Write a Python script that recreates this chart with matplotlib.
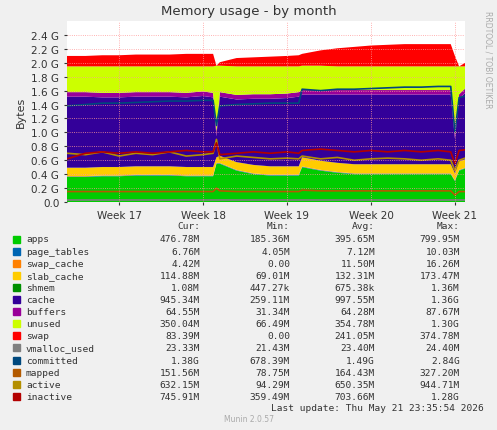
import matplotlib
matplotlib.use("Agg")
import matplotlib.pyplot as plt
import numpy as np

weeks = [16.38,16.6,16.8,17.0,17.2,17.4,17.6,17.8,18.0,18.12,18.16,18.2,18.4,18.6,18.8,19.0,19.14,19.18,19.4,19.6,19.8,20.0,20.2,20.4,20.6,20.8,20.95,21.0,21.05,21.12]
apps = [0.36,0.36,0.37,0.37,0.38,0.38,0.38,0.37,0.37,0.37,0.55,0.55,0.45,0.40,0.38,0.38,0.38,0.50,0.45,0.42,0.40,0.40,0.40,0.40,0.40,0.40,0.40,0.30,0.45,0.48]
page_tables = [0.007]*30
swap_cache = [0.005]*30
slab_cache = [0.12,0.12,0.12,0.12,0.12,0.12,0.12,0.12,0.12,0.12,0.08,0.10,0.11,0.12,0.12,0.12,0.12,0.13,0.13,0.13,0.13,0.13,0.13,0.13,0.13,0.13,0.13,0.10,0.12,0.12]
shmem = [0.001]*30
cache = [1.02,1.02,1.0,1.0,1.0,1.0,1.0,1.0,1.02,1.0,0.30,0.85,0.90,0.95,0.97,0.98,1.0,0.90,0.95,0.98,1.0,1.0,1.0,1.0,1.0,1.0,1.0,0.50,0.90,0.95]
buffers = [0.065]*30
unused = [0.37,0.37,0.38,0.38,0.37,0.37,0.37,0.38,0.36,0.38,0.95,0.38,0.41,0.40,0.40,0.39,0.37,0.35,0.35,0.34,0.34,0.34,0.34,0.34,0.34,0.34,0.34,0.97,0.40,0.32]
swap = [0.15,0.15,0.16,0.16,0.17,0.17,0.17,0.18,0.18,0.18,0.0,0.05,0.12,0.13,0.14,0.15,0.16,0.17,0.22,0.26,0.28,0.30,0.31,0.32,0.32,0.32,0.32,0.15,0.0,0.05]
vmalloc_used = [0.023]*30
committed = [1.38,1.40,1.42,1.42,1.43,1.44,1.45,1.45,1.46,1.46,1.10,1.38,1.40,1.41,1.42,1.42,1.42,1.62,1.60,1.62,1.62,1.63,1.64,1.65,1.65,1.66,1.66,1.00,1.50,1.52]
mapped = [0.15,0.15,0.15,0.15,0.15,0.15,0.15,0.15,0.15,0.15,0.20,0.16,0.15,0.15,0.15,0.15,0.15,0.17,0.16,0.16,0.16,0.16,0.16,0.16,0.16,0.16,0.16,0.10,0.15,0.15]
active = [0.70,0.68,0.72,0.66,0.70,0.68,0.72,0.66,0.68,0.70,0.90,0.62,0.66,0.64,0.62,0.63,0.62,0.66,0.62,0.64,0.60,0.62,0.63,0.62,0.60,0.62,0.60,0.45,0.60,0.63]
inactive = [0.62,0.70,0.72,0.70,0.72,0.70,0.72,0.74,0.72,0.72,0.85,0.68,0.70,0.72,0.70,0.72,0.70,0.74,0.76,0.74,0.72,0.74,0.72,0.74,0.72,0.74,0.72,0.55,0.74,0.75]

names = ["apps","page_tables","swap_cache","slab_cache","shmem","cache","buffers","unused","swap","vmalloc_used","committed","mapped","active","inactive"]
colors = ["#00CC00","#0066B3","#FF8000","#FFCC00","#008F00","#330099","#990099","#CCFF00","#FF0000","#808080","#00487D","#B35A00","#B38F00","#B30000"]
cur = ["476.78M","6.76M","4.42M","114.88M","1.08M","945.34M","64.55M","350.04M","83.39M","23.33M","1.38G","151.56M","632.15M","745.91M"]
mins = ["185.36M","4.05M","0.00","69.01M","447.27k","259.11M","31.34M","66.49M","0.00","21.43M","678.39M","78.75M","94.29M","359.49M"]
avgs = ["395.65M","7.12M","11.50M","132.31M","675.38k","997.55M","64.28M","354.78M","241.05M","23.40M","1.49G","164.43M","650.35M","703.66M"]
maxs = ["799.95M","10.03M","16.26M","173.47M","1.36M","1.36G","87.67M","1.30G","374.78M","24.40M","2.84G","327.20M","944.71M","1.28G"]

fig = plt.figure(figsize=(4.97,4.31), dpi=100, facecolor="#F0F0F0")
ax = fig.add_axes([67/497, 1-203/431, 398/497, 181/431])
ax.set_facecolor("white")
ax.stackplot(weeks, apps, page_tables, swap_cache, slab_cache, shmem, cache, buffers, unused, swap,
             colors=colors[:9], linewidth=0)
for s, c in zip([vmalloc_used, committed, mapped, active, inactive], colors[9:]):
    ax.plot(weeks, s, color=c, lw=1.2)
ax.set_xlim(16.38, 21.12)
ax.set_ylim(0, 2.6)
yt = np.arange(0, 2.41, 0.2)
ax.set_yticks(yt)
ax.set_yticklabels(["0.0"] + ["%.1f G" % v for v in yt[1:]], fontsize=7.5)
ax.set_xticks([17,18,19,20,21])
ax.set_xticklabels(["Week 17","Week 18","Week 19","Week 20","Week 21"], fontsize=7.5)
ax.grid(True, color="#FF9999", ls=":", lw=0.6)
ax.set_axisbelow(False)
ax.tick_params(length=2, colors="#333333")
for sp in ax.spines.values():
    sp.set_visible(False)
ax.set_ylabel("Bytes", fontsize=8, color="#333333")
fig.text(0.5, 1-12/431, "Memory usage - by month", ha="center", va="center", fontsize=9.5, color="#333333")
fig.text(488/497, 1-60/431, "RRDTOOL / TOBI OETIKER", rotation=270, ha="center", va="center", fontsize=5.5, color="#AAAAAA")

mono = "DejaVu Sans Mono"
fs = 6.8
hy = 227
for x, t in [(200,"Cur:"),(290,"Min:"),(375,"Avg:"),(460,"Max:")]:
    fig.text(x/497, 1-hy/431, t, ha="right", va="center", family=mono, fontsize=fs, color="#333333")
for i, n in enumerate(names):
    y = 240 + i*12.1
    fig.patches.append(plt.Rectangle((13/497, 1-(y+3.5)/431), 7/497, 7/431, transform=fig.transFigure, color=colors[i]))
    fig.text(26/497, 1-y/431, n, ha="left", va="center", family=mono, fontsize=fs, color="#333333")
    for x, v in [(200,cur[i]),(290,mins[i]),(375,avgs[i]),(460,maxs[i])]:
        fig.text(x/497, 1-y/431, v, ha="right", va="center", family=mono, fontsize=fs, color="#333333")
fig.text(484/497, 1-409/431, "Last update: Thu May 21 23:35:54 2026", ha="right", va="center", family=mono, fontsize=fs, color="#333333")
fig.text(0.5, 1-420/431, "Munin 2.0.57", ha="center", va="center", fontsize=5.5, color="#AAAAAA")
fig.savefig("out.png", dpi=100, facecolor=fig.get_facecolor())
